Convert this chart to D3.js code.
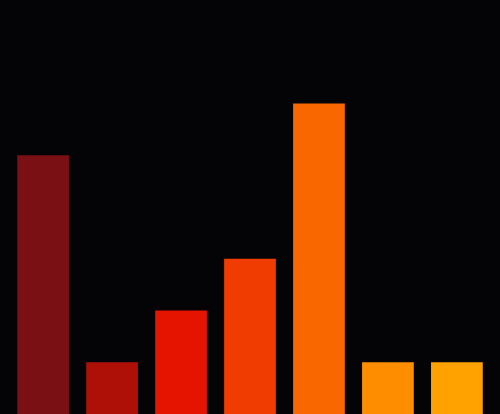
<!DOCTYPE html>
<html>
<head>
<meta charset="utf-8">
<script src="https://cdn.jsdelivr.net/npm/d3@7"></script>
<style>
  html, body { margin: 0; padding: 0; background: #040406; overflow: hidden; }
</style>
</head>
<body>
<svg width="500" height="414"></svg>
<script>
// dados
const categories = ["A", "B", "C", "D", "E", "F", "G"];
const values = [5, 1, 2, 3, 6, 1, 1];
const colors = ["#7a0f14", "#ae1008", "#e51400", "#f03c00", "#f96700", "#fe8e00", "#ffa200"];

var svg = d3.select("svg"),
    width = +svg.attr("width"),
    height = +svg.attr("height");

svg.append("rect")
    .attr("width", width)
    .attr("height", height)
    .attr("fill", "#040406");

const x = d3.scaleBand()
    .domain(categories)
    .range([0, width])
    .padding(0.25);

const y = d3.scaleLinear()
    .domain([0, 8])
    .range([height, 0]);

const color = d3.scaleOrdinal()
    .domain(categories)
    .range(colors);

svg.selectAll("rect.bar")
  .data(categories)
  .enter().append("rect")
    .attr("class", "bar")
    .attr("x", d => x(d))
    .attr("y", (d, i) => y(values[i]))
    .attr("width", x.bandwidth())
    .attr("height", (d, i) => y(0) - y(values[i]))
    .attr("fill", d => color(d));
</script>
</body>
</html>
